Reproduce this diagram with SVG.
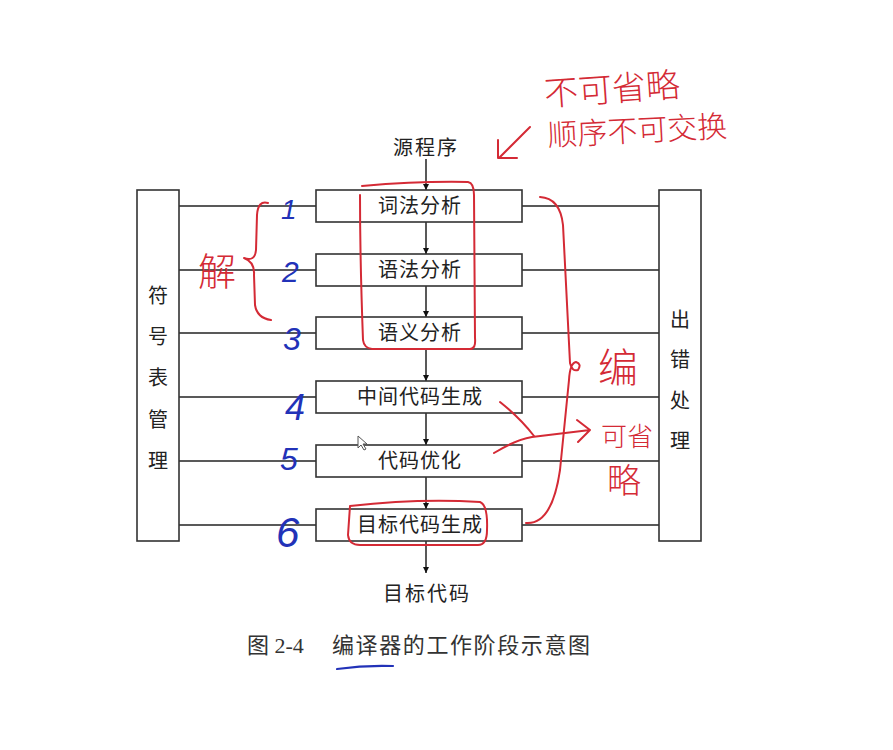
<svg xmlns="http://www.w3.org/2000/svg" width="893" height="750" viewBox="0 0 893 750">
<style>
.bx{fill:#fff;stroke:#333;stroke-width:1.6}
.ln{stroke:#222;stroke-width:1.5;fill:none}
.t{font-family:"Noto Sans CJK SC","Liberation Sans",sans-serif;font-size:20px;fill:#222;text-anchor:middle}
.cap{font-family:"Liberation Serif","Noto Sans CJK SC",serif;font-size:22px;fill:#333}
.red{stroke:#d42a35;stroke-width:2;fill:none;stroke-linecap:round;stroke-linejoin:round}
.blue{stroke:#2232b8;stroke-width:2.2;fill:none;stroke-linecap:round}
.rt{font-family:"Noto Sans CJK SC",sans-serif;fill:#d42a35;font-weight:300}
.bt{font-family:"Liberation Sans",sans-serif;fill:#2232b8;font-style:italic}
</style>
<defs>
<marker id="ah" viewBox="0 0 10 10" refX="10" refY="5" markerWidth="6" markerHeight="10" markerUnits="userSpaceOnUse" orient="auto">
<path d="M0,0 L10,5 L0,10 z" fill="#111"/>
</marker>
</defs>
<rect width="893" height="750" fill="#fff"/>

<g id="connectors">
<line class="ln" x1="426" y1="159" x2="426" y2="190" marker-end="url(#ah)"/>
<line class="ln" x1="426" y1="222" x2="426" y2="254" marker-end="url(#ah)"/>
<line class="ln" x1="426" y1="286" x2="426" y2="317" marker-end="url(#ah)"/>
<line class="ln" x1="426" y1="349" x2="426" y2="381" marker-end="url(#ah)"/>
<line class="ln" x1="426" y1="413" x2="426" y2="445" marker-end="url(#ah)"/>
<line class="ln" x1="426" y1="477" x2="426" y2="509" marker-end="url(#ah)"/>
<line class="ln" x1="426" y1="541" x2="426" y2="573" marker-end="url(#ah)"/>
<line class="ln" x1="179" y1="206" x2="316" y2="206"/>
<line class="ln" x1="179" y1="270" x2="316" y2="270"/>
<line class="ln" x1="179" y1="333" x2="316" y2="333"/>
<line class="ln" x1="179" y1="397" x2="316" y2="397"/>
<line class="ln" x1="179" y1="461" x2="316" y2="461"/>
<line class="ln" x1="179" y1="525" x2="316" y2="525"/>
<line class="ln" x1="522" y1="206" x2="659" y2="206"/>
<line class="ln" x1="522" y1="270" x2="659" y2="270"/>
<line class="ln" x1="522" y1="333" x2="659" y2="333"/>
<line class="ln" x1="522" y1="397" x2="659" y2="397"/>
<line class="ln" x1="522" y1="461" x2="659" y2="461"/>
<line class="ln" x1="522" y1="525" x2="659" y2="525"/>
</g>

<g id="src"><text class="t" x="426" y="155" font-size="21" letter-spacing="2">源程序</text></g>
<g id="dst"><text class="t" x="427" y="601" font-size="21" letter-spacing="2">目标代码</text></g>

<g id="symtab">
<rect class="bx" x="137" y="190" width="42" height="351"/>
<text class="t" x="158" y="303">符</text>
<text class="t" x="158" y="344">号</text>
<text class="t" x="158" y="385">表</text>
<text class="t" x="158" y="427">管</text>
<text class="t" x="158" y="468">理</text>
</g>
<g id="errh">
<rect class="bx" x="659" y="190" width="42" height="351"/>
<text class="t" x="680" y="327">出</text>
<text class="t" x="680" y="367">错</text>
<text class="t" x="680" y="408">处</text>
<text class="t" x="680" y="448">理</text>
</g>

<g id="p1"><rect class="bx" x="316" y="190" width="206" height="32"/><text class="t" x="420" y="213" letter-spacing="1">词法分析</text></g>
<g id="p2"><rect class="bx" x="316" y="254" width="206" height="32"/><text class="t" x="420" y="277" letter-spacing="1">语法分析</text></g>
<g id="p3"><rect class="bx" x="316" y="317" width="206" height="32"/><text class="t" x="420" y="340" letter-spacing="1">语义分析</text></g>
<g id="p4"><rect class="bx" x="316" y="381" width="206" height="32"/><text class="t" x="420" y="404" letter-spacing="1">中间代码生成</text></g>
<g id="p5"><rect class="bx" x="316" y="445" width="206" height="32"/><text class="t" x="420" y="468" letter-spacing="1">代码优化</text></g>
<g id="p6"><rect class="bx" x="316" y="509" width="206" height="32"/><text class="t" x="420" y="532" letter-spacing="1">目标代码生成</text></g>

<g id="caption">
<text class="cap" x="247" y="653">图 2-4</text>
<text class="cap" x="332" y="653" letter-spacing="1.6">编译器的工作阶段示意图</text>
</g>

<g id="annotations">
<text class="rt" x="545" y="106" font-size="34" transform="rotate(-4 545 106)">不可省略</text>
<text class="rt" x="548" y="146" font-size="30" transform="rotate(-3 548 146)">顺序不可交换</text>
<path class="red" d="M530,127 L499,158 M498,140 L498,158 L517,158"/>
<path class="red" d="M362,186 Q420,181 468,182 Q474,183 474,195 L475,338 Q476,349 470,349 L372,349 Q364,348 363,340 Q360,260 360,195"/>
<path class="red" d="M268,203 Q258,200 257,215 L256,250 Q255,262 244,258 Q255,262 254,275 L255,305 Q257,318 271,320"/>
<text class="rt" x="198" y="285" font-size="38">解</text>
<text class="bt" x="281" y="219" font-size="28">1</text>
<text class="bt" x="282" y="282" font-size="30">2</text>
<text class="bt" x="283" y="350" font-size="32">3</text>
<text class="bt" x="285" y="420" font-size="36">4</text>
<text class="bt" x="280" y="470" font-size="32">5</text>
<text class="bt" x="276" y="547" font-size="42">6</text>
<path class="red" d="M540,197 Q560,198 563,225 L570,363 Q572,372 578,370 Q582,364 576,362 Q570,363 569,380 L560,470 Q552,525 526,523"/>
<text class="rt" x="598" y="382" font-size="40">编</text>
<path class="red" d="M500,402 Q520,418 534,436 M494,453 Q515,440 532,437 L590,430 M577,420 L590,430 L578,442"/>
<text class="rt" x="601" y="446" font-size="26">可省</text>
<text class="rt" x="607" y="493" font-size="34">略</text>
<path class="red" d="M350,506 Q420,498 480,502 Q488,505 487,530 Q487,545 478,545 L360,545 Q349,545 348,535 Z"/>
<path class="blue" d="M337,669 Q365,665 393,666"/>
<path d="M358,436 L358,448 L361,445 L364,450 L366,449 L363,444 L367,444 Z" fill="#fff" stroke="#555" stroke-width="1"/>
</g>
</svg>
